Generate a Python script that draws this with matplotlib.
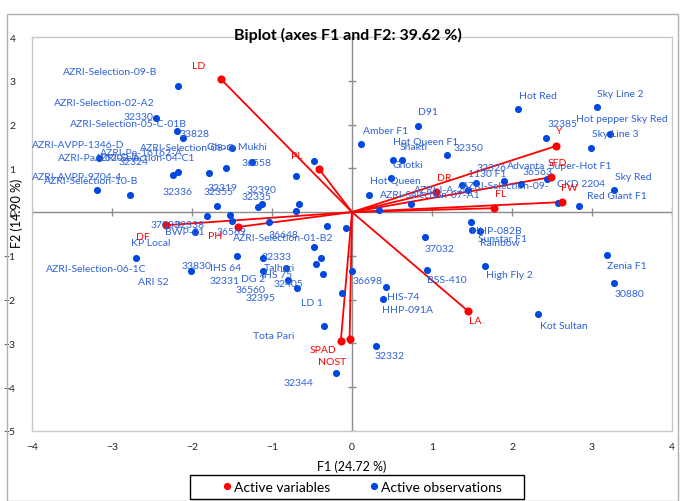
import matplotlib.pyplot as plt
from matplotlib.lines import Line2D
from matplotlib.patches import Rectangle

# loadings of the active variables on F1 / F2
var_names = ['LD', 'PL', 'DR', 'FL', 'Y', 'SFD', 'FW', 'LA', 'SPAD', 'NOST', 'PH', 'DF']
var_f1 = [-1.64, -0.41, 1.05, 1.78, 2.55, 2.49, 2.63, 1.45, -0.14, -0.03, -1.43, -2.33]
var_f2 = [3.04, 0.98, 0.46, 0.09, 1.51, 0.80, 0.23, -2.26, -2.95, -2.90, -0.34, -0.30]

# factor scores of the active observations
obs_names = [
    'AZRI-Selection-09-B', 'AZRI-Selection-02-A2', '32330', 'AZRI-Selection-05-C-01B', '33828',
    'AZRI-AVPP-1346-D', 'AZRI-Pe-16162-A', 'AZRI-Pa-16203-A', 'AZRI-Selection-04-C1', '32324',
    'AZRI-AVPP-9704-4', 'AZRI-Selection-10-B', '32336', '32319', '32355',
    '32390', '32335', '36558', 'AZRI-Selection-08-C', 'Ghora Mukhi',
    '37033', '32338', 'BWP-01', 'KP Local', 'AZRI-Selection-06-1C',
    '33830', 'ARI S2', '36569', 'AZRI-Selection-01-B2', '36648',
    '32333', 'IHS 64', 'Talhari', '32331', 'DG 2',
    'IHS 75', '32405', '36560', '32395', 'LD 1',
    'Tota Pari', '32344', '32332', '36698', 'HIS-74',
    'HHP-091A', 'BSS-410', '37032', 'HHP-082B', 'Sunstar F1',
    'Rainbow', 'High Fly 2', 'Zenia F1', '30880', 'Kot Sultan',
    'Red Giant F1', 'Sky Red', 'CKD 2204', 'Super-Hot F1', '36563',
    'Advanta', '32326', '1130 F1', 'AZRI-Selection-09-', 'AZRI-I-A-20',
    'AZRI-Selection-07-A1', 'Hot Queen', 'Ghotki', 'Shakti', 'Hot Queen F1',
    '32350', 'Amber F1', 'D91', 'Hot Red', 'Sky Line 2',
    '32385', 'Hot pepper Sky Red', 'Sky Line 3',
]
obs_f1 = [
    -2.18, -2.45, -2.19, -0.70, -2.11,
    -3.16, -0.70, -0.48, -2.18, -0.66,
    -3.19, -2.78, -2.24, -1.79, -1.69,
    -1.13, -1.18, -1.58, -1.25, -1.50,
    -1.81, -1.53, -1.96, -2.70, -0.48,
    -0.08, -2.01, -1.50, -0.31, -1.04,
    -1.11, -1.44, -0.83, -0.39, -1.11,
    -0.80, -0.69, -0.45, -0.36, -0.13,
    -0.35, -0.20, 0.30, 0.00, 0.43,
    0.39, 0.94, 0.91, 1.60, 1.50,
    1.49, 1.66, 3.19, 3.28, 2.33,
    2.84, 3.28, 2.58, 2.44, 2.11,
    1.90, 1.55, 1.38, 1.45, 0.74,
    0.34, 0.21, 0.49, 0.63, 0.51,
    1.19, 0.11, 0.83, 2.08, 3.06,
    2.43, 3.23, 2.99,
]
obs_f2 = [
    2.88, 2.15, 1.85, 0.02, 1.69,
    1.23, 0.82, 1.16, 0.91, 0.18,
    0.50, 0.39, 0.85, 0.89, 0.14,
    0.18, 0.11, 1.00, 1.14, 1.46,
    -0.09, -0.07, -0.46, -1.05, -0.80,
    -0.37, -1.35, -0.21, -0.32, -0.23,
    -1.05, -1.00, -1.28, -1.05, -1.35,
    -1.55, -1.74, -1.19, -1.42, -1.85,
    -2.60, -3.68, -3.06, -1.35, -1.71,
    -1.99, -1.32, -0.57, -0.43, -0.41,
    -0.23, -1.23, -0.98, -1.62, -2.33,
    0.14, 0.50, 0.21, 0.75, 0.64,
    0.71, 0.66, 0.62, 0.50, 0.18,
    0.05, 0.39, 0.78, 1.19, 1.19,
    1.30, 1.55, 1.96, 2.35, 2.40,
    1.69, 1.78, 1.46,
]

# label placement (pixel offsets of the text centre from its point, y downward)
var_offsets = [(-22, -14), (-22, -14), (8, -14), (6, -15), (3, -16), (6, -15),
               (7, -15), (7, 9), (-18, 8), (-18, 22), (-22, 9), (-23, 11)]
obs_offsets = [
    (-67, -15), (-52, -15), (-38, -15), (-168, -88), (11, -5),
    (-21, -14), (-155, -24), (-214, -4), (-32, -15), (-166, -43),
    (-20, -14), (-38, -15), (5, 17), (14, 14), (2, -14),
    (0, -15), (-1, -11), (31, -6), (-65, -15), (5, -2),
    (-42, 8), (-40, 9), (-10, -1), (15, -16), (-217, 21),
    (-149, 37), (-38, 10), (0, 10), (-44, 11), (15, 12),
    (13, -2), (-11, 12), (-6, -1), (-96, 22), (-10, 7),
    (-11, -5), (-8, -5), (-66, 25), (-63, 23), (-30, 9),
    (-50, 10), (-38, 9), (14, 9), (16, 9), (17, 10),
    (24, 10), (20, 10), (15, 11), (16, 0), (30, 8),
    (29, 20), (25, 9), (20, 10), (15, 10), (25, 11),
    (38, -10), (19, -14), (23, -19), (33, -14), (17, -13),
    (22, -16), (16, -16), (25, -11), (38, -5), (31, -15),
    (51, -15), (27, -15), (17, -13), (11, -14), (33, -19),
    (21, -8), (25, -14), (10, -15), (20, -14), (23, -14),
    (16, -15), (11, -16), (24, -15),
]

RED = '#ff0000'
BLUE = '#0047e0'
LABEL_BLUE = '#2f62d8'
GREY = '#8c8c8c'
FONT = ['Lato', 'DejaVu Sans']
NARROW = ['Liberation Sans Narrow', 'Lato', 'DejaVu Sans']

W, H = 681, 502
fig = plt.figure(figsize=(W / 100, H / 100), dpi=100)
fig.patches.append(Rectangle((7 / W, 0), 671 / W, 1 - 15 / H, transform=fig.transFigure,
                             fill=False, edgecolor='#b0b0b0', lw=1))
ax = fig.add_axes([32 / W, 1 - 432 / H, 640 / W, 394 / H])
ax.set_xlim(-4, 4)
ax.set_ylim(-5, 4)
for s in ax.spines.values():
    s.set_color('#c8c8c8')
    s.set_linewidth(1)
ax.set_xticks(range(-4, 5))
ax.set_yticks(range(-5, 5))
ax.tick_params(length=0, labelsize=7.5, labelcolor='#222222')
ax.tick_params(axis='x', pad=8)
ax.tick_params(axis='y', pad=12)
for t in ax.get_xticklabels() + ax.get_yticklabels():
    t.set_family(NARROW)

# zero axes with cross ticks
ax.axhline(0, color=GREY, lw=1, zorder=1)
ax.axvline(0, color=GREY, lw=1, zorder=1)
ax.plot(range(-4, 5), [0] * 9, ls='none', marker='|', ms=6, mew=1, color=GREY, zorder=1)
ax.plot([0] * 10, range(-5, 5), ls='none', marker='_', ms=6, mew=1, color=GREY, zorder=1)

# observations
ax.scatter(obs_f1, obs_f2, s=26, color=BLUE, zorder=3, linewidths=0)
for name, x, y, (dx, dy) in zip(obs_names, obs_f1, obs_f2, obs_offsets):
    ax.annotate(name, (x, y), xytext=(dx, -dy), textcoords='offset pixels',
                ha='center', va='center', fontsize=7.5, color=LABEL_BLUE,
                family=FONT, zorder=4)

# variable vectors
for name, x, y, (dx, dy) in zip(var_names, var_f1, var_f2, var_offsets):
    ax.plot([0, x], [0, y], color=RED, lw=1.3, zorder=2)
    ax.annotate(name, (x, y), xytext=(dx, -dy), textcoords='offset pixels',
                ha='center', va='center', fontsize=7.5, color=RED, family=FONT, zorder=4)
ax.scatter(var_f1, var_f2, s=34, color=RED, zorder=3, linewidths=0)

fig.text(348 / W, 1 - 35 / H, 'Biplot (axes F1 and F2: 39.62 %)', ha='center', va='center',
         fontsize=11.5, fontweight='bold', family=NARROW)
fig.text(352 / W, 1 - 467 / H, 'F1 (24.72 %)', ha='center', va='center', fontsize=9,
         family=NARROW)
fig.text(17 / W, 1 - 213 / H, 'F2 (14.90 %)', ha='center', va='center', rotation=90,
         fontsize=9, family=NARROW)

# legend box under the axis title
fig.patches.append(Rectangle((190 / W, 1 - 500 / H), 334 / W, 24 / H, transform=fig.transFigure,
                             fill=False, edgecolor='black', lw=1))
handles = [Line2D([], [], ls='none', marker='o', ms=4.2, color=RED, label='Active variables'),
           Line2D([], [], ls='none', marker='o', ms=4.2, color=BLUE, label='Active observations')]
fig.legend(handles=handles, loc='center', bbox_to_anchor=(361 / W, 1 - 488 / H), ncol=2,
           frameon=False, handletextpad=0.0, columnspacing=2.6, borderpad=0.2,
           handlelength=1.0, prop={'family': NARROW, 'size': 10})

fig.savefig('out.png', dpi=100)
